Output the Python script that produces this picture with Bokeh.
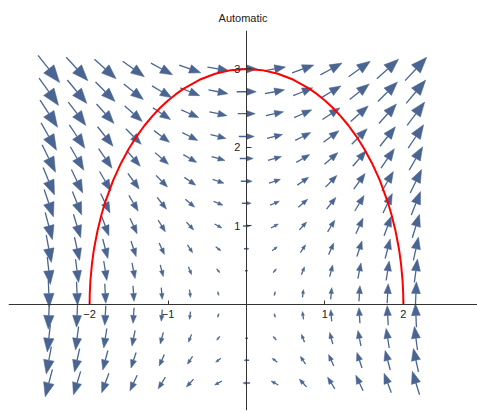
import numpy as np
from bokeh.plotting import figure
from bokeh.models import FixedTicker, Range1d
from bokeh.embed import file_html
from bokeh.resources import INLINE

# ---- data ----
title_text = "Automatic"
# sample positions of the arrows
col_x = [-2.52, -2.16, -1.80, -1.44, -1.08, -0.72, -0.36, 0.0, 0.36, 0.72, 1.08, 1.44, 1.80, 2.16]
row_y = [3.0, 2.71, 2.43, 2.14, 1.86, 1.57, 1.29, 1.0, 0.71, 0.43, 0.14, -0.14, -0.43, -0.71, -1.0]
# field: horizontal component per row, vertical component per column
u_row = [3.0, 2.71, 2.43, 2.14, 1.86, 1.57, 1.29, 1.0, 0.71, 0.43, 0.14, -0.14, -0.43, -0.71, -1.0]
v_col = [-3.78, -3.24, -2.70, -2.16, -1.62, -1.08, -0.54, 0.0, 0.54, 1.08, 1.62, 2.16, 2.70, 3.24]
# red curve
curve_x = [-2.0, -1.998, -1.99, -1.97, -1.95, -1.94, -1.9, -1.85, -1.8, -1.7, -1.6, -1.5, -1.4, -1.3,
           -1.2, -1.1, -1.0, -0.9, -0.8, -0.6, -0.4, -0.2, 0.0, 0.2, 0.4, 0.6, 0.8, 0.9, 1.0, 1.1,
           1.2, 1.3, 1.4, 1.5, 1.6, 1.7, 1.8, 1.85, 1.9, 1.94, 1.95, 1.97, 1.99, 1.998, 2.0]
curve_y = [0.0, 0.134, 0.300, 0.518, 0.667, 0.729, 0.937, 1.140, 1.308, 1.580, 1.800, 1.984, 2.142, 2.280,
           2.400, 2.506, 2.598, 2.679, 2.750, 2.862, 2.939, 2.985, 3.0, 2.985, 2.939, 2.862, 2.750, 2.679,
           2.598, 2.506, 2.400, 2.280, 2.142, 1.984, 1.800, 1.580, 1.308, 1.140, 0.937, 0.729, 0.667,
           0.518, 0.300, 0.134, 0.0]
x_ticks = [-2, -1, 1, 2]
y_ticks = [1, 2, 3]
x_tick_labels = {-2: "\u22122", -1: "\u22121", 1: "1", 2: "2"}

# ---- styling ----
ARROW_COLOR = "#4a6591"
SCALE = 0.092       # data units per field unit
HEAD_LEN = 0.5      # fraction of arrow length
HEAD_WID = 0.38     # fraction of arrow length

p = figure(width=477, height=412,
           x_range=Range1d(-3.034, 2.945), y_range=Range1d(-1.350, 3.490),
           output_backend="svg", toolbar_location=None,
           min_border=0, min_border_left=8, min_border_top=30, min_border_bottom=2)
p.grid.visible = False
p.outline_line_color = None
p.background_fill_color = "white"

# arrows
sx0, sy0, sx1, sy1 = [], [], [], []
hx, hy = [], []
for j, y in enumerate(row_y):
    for i, x in enumerate(col_x):
        dx = SCALE * u_row[j]
        dy = SCALE * v_col[i]
        L = (dx * dx + dy * dy) ** 0.5
        if L == 0:
            continue
        ux, uy = dx / L, dy / L
        px, py = -uy, ux
        tx, ty = x - dx / 2, y - dy / 2
        ex, ey = x + dx / 2, y + dy / 2
        bx, by = ex - HEAD_LEN * L * ux, ey - HEAD_LEN * L * uy
        w = HEAD_WID * L / 2
        sx0.append(tx); sy0.append(ty); sx1.append(bx); sy1.append(by)
        hx.append([ex, bx + w * px, bx - w * px])
        hy.append([ey, by + w * py, by - w * py])

p.segment(sx0, sy0, sx1, sy1, line_color=ARROW_COLOR, line_width=1.3)
p.patches(hx, hy, fill_color=ARROW_COLOR, line_color=ARROW_COLOR, line_width=0.5)

# red curve
p.line(curve_x, curve_y, line_color="#ff0000", line_width=2)

# axes through origin
for ax in (p.xaxis, p.yaxis):
    ax.fixed_location = 0
    ax.axis_line_color = "#333333"
    ax.axis_line_width = 1
    ax.major_tick_line_color = "#333333"
    ax.major_tick_out = 0
    ax.minor_tick_line_color = None
    ax.major_label_text_font = "Liberation Sans"
    ax.major_label_text_font_size = "11px"
    ax.major_label_text_color = "#222222"
p.xaxis.ticker = FixedTicker(ticks=x_ticks)
p.yaxis.ticker = FixedTicker(ticks=y_ticks)
p.xaxis.major_label_overrides = x_tick_labels
p.xaxis.major_tick_in = 4
p.yaxis.major_tick_in = 5
p.xaxis.major_label_standoff = 5
p.yaxis.major_label_standoff = 6

p.title.text = title_text
p.title.align = "center"
p.title.offset = 7
p.title.standoff = 13
p.title.text_font = "Liberation Sans"
p.title.text_font_size = "11px"
p.title.text_font_style = "normal"
p.title.text_color = "#222222"

open("out.html", "w").write(file_html(p, INLINE))
